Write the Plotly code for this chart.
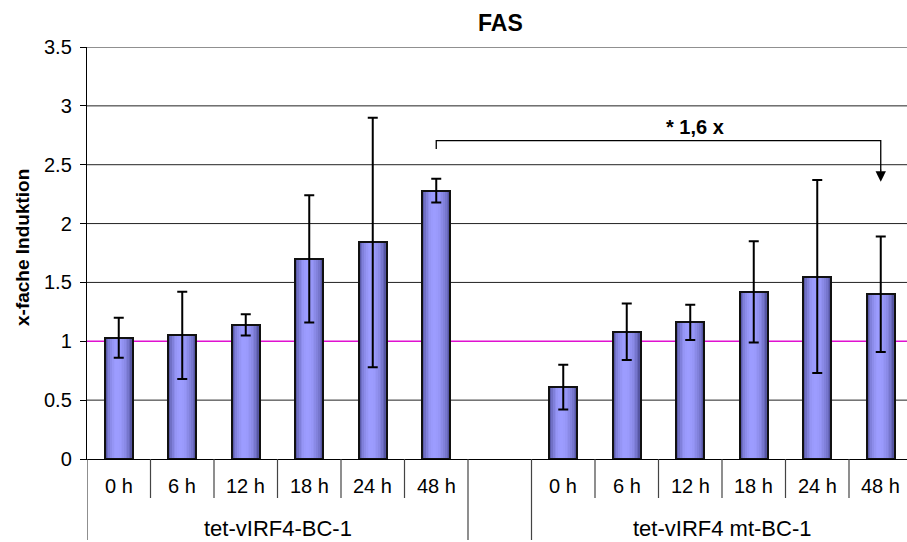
import plotly.graph_objects as go

# --- data -------------------------------------------------------------
times = ["0 h", "6 h", "12 h", "18 h", "24 h", "48 h"]
groups = ["tet-vIRF4-BC-1", "tet-vIRF4 mt-BC-1"]

wt_values = [1.03, 1.05, 1.14, 1.70, 1.84, 2.28]
wt_errors = [0.17, 0.37, 0.09, 0.54, 1.06, 0.10]

mt_values = [0.61, 1.08, 1.16, 1.42, 1.55, 1.40]
mt_errors = [0.19, 0.24, 0.15, 0.43, 0.82, 0.49]

y_ticks = [0, 0.5, 1, 1.5, 2, 2.5, 3, 3.5]
baseline = 1
fold_label = "* 1,6 x"
title_text = "FAS"
y_title = "x-fache Induktion"

# slot layout: six bars, one empty slot, six bars
wt_slots = list(range(0, 6))
mt_slots = list(range(7, 13))
x_pos = wt_slots + mt_slots
y_val = wt_values + mt_values
y_err = wt_errors + mt_errors

FONT = "Arial, 'Liberation Sans', sans-serif"
BAR_W = 0.44
N_STRIPES = 16

fig = go.Figure()

# cylinder-like horizontal shading built from narrow overlaid stripes
light = (156, 156, 255)
dark = (72, 72, 145)
centre = 0.42
for i in range(N_STRIPES):
    t = (i + 0.5) / N_STRIPES
    span = centre if t < centre else 1 - centre
    b = max(0.0, 1 - ((t - centre) / span) ** 2)
    b = b ** 0.8
    col = tuple(int(round(d + (l - d) * b)) for d, l in zip(dark, light))
    left = -BAR_W / 2 + i * BAR_W / N_STRIPES
    fig.add_trace(go.Bar(
        x=x_pos, y=y_val,
        width=BAR_W - i * BAR_W / N_STRIPES,
        offset=left,
        marker=dict(color="rgb(%d,%d,%d)" % col, line=dict(width=0)),
        showlegend=False, hoverinfo="skip",
    ))

# outline + error bars
fig.add_trace(go.Bar(
    x=x_pos, y=y_val, width=BAR_W,
    marker=dict(color="rgba(0,0,0,0)", line=dict(color="#111111", width=2)),
    error_y=dict(type="data", array=y_err, visible=True,
                 color="#000000", thickness=2, width=5),
    showlegend=False,
))

# --- geometry ---------------------------------------------------------
L, T, B, R = 87, 47, 83, 0
W, H = 907, 542
slot_px = 63.5
x_max = -0.5 + (W - L - R) / slot_px
plot_h = H - T - B


def py(pix):
    """pixel row -> paper y"""
    return (H - B - pix) / plot_h


def px(pix):
    """pixel column -> paper x"""
    return (pix - L) / (W - L - R)


shapes = []
# horizontal grid (the line at 1 is drawn in magenta instead)
for v in y_ticks:
    if v == 0 or v == baseline:
        continue
    shapes.append(dict(type="line", xref="paper", yref="y", x0=0, x1=1, y0=v, y1=v,
                       line=dict(color="#222222", width=1), layer="below"))
shapes.append(dict(type="line", xref="paper", yref="y", x0=0, x1=1,
                   y0=baseline, y1=baseline,
                   line=dict(color="#e010d0", width=1.4), layer="below"))

# category dividers below the axis
long_bounds = [-0.5, 5.5, 6.5]
inner_bounds = [0.5, 1.5, 2.5, 3.5, 4.5, 7.5, 8.5, 9.5, 10.5, 11.5]
for xb in long_bounds:
    shapes.append(dict(type="line", xref="x", yref="paper", x0=xb, x1=xb,
                       y0=0, y1=py(540), line=dict(color="#444444", width=1.2)))
for xb in inner_bounds:
    shapes.append(dict(type="line", xref="x", yref="paper", x0=xb, x1=xb,
                       y0=0, y1=py(498), line=dict(color="#444444", width=1.2)))

# comparison bracket between the two 48 h bars
br_top, br_left = 2.704, 2.634
shapes.append(dict(type="path", xref="x", yref="y",
                   path="M 5,%f L 5,%f L 12,%f L 12,2.45" % (br_left, br_top, br_top),
                   line=dict(color="#000000", width=1.3)))

annotations = []
annotations.append(dict(x=12, y=2.356, xref="x", yref="y", ax=12, ay=2.47,
                        axref="x", ayref="y", text="", showarrow=True,
                        arrowhead=2, arrowsize=1.6, arrowwidth=1.3,
                        arrowcolor="#000000", standoff=0))
annotations.append(dict(x=9.07, y=2.823, xref="x", yref="y", text="<b>%s</b>" % fold_label,
                        showarrow=False, font=dict(family=FONT, size=20, color="#000000"),
                        xanchor="center", yanchor="middle"))

# time labels and group labels
for slots in (wt_slots, mt_slots):
    for s, lab in zip(slots, times):
        annotations.append(dict(x=s, y=py(486), xref="x", yref="paper", text=lab,
                                showarrow=False, xanchor="center", yanchor="middle",
                                font=dict(family=FONT, size=20, color="#000000")))
for slots, g in zip((wt_slots, mt_slots), groups):
    annotations.append(dict(x=(slots[0] + slots[-1]) / 2, y=py(528), xref="x", yref="paper",
                            text=g, showarrow=False, xanchor="center", yanchor="middle",
                            font=dict(family=FONT, size=22, color="#000000")))

# title and axis title
annotations.append(dict(x=px(500), y=py(23), xref="paper", yref="paper",
                        text="<b>%s</b>" % title_text, showarrow=False,
                        xanchor="center", yanchor="middle",
                        font=dict(family=FONT, size=23, color="#000000")))
annotations.append(dict(x=px(22), y=py(248), xref="paper", yref="paper",
                        text="<b>%s</b>" % y_title, showarrow=False, textangle=-90,
                        xanchor="center", yanchor="middle",
                        font=dict(family=FONT, size=19, color="#000000")))

fig.update_layout(
    width=W, height=H,
    margin=dict(l=L, r=R, t=T, b=B, pad=0),
    paper_bgcolor="white", plot_bgcolor="white",
    barmode="overlay", bargap=0,
    shapes=shapes, annotations=annotations,
    font=dict(family=FONT, color="#000000"),
    xaxis=dict(range=[-0.5, x_max], showgrid=False, zeroline=False,
               showticklabels=False, ticks="", showline=True,
               linecolor="#000000", linewidth=1.2, fixedrange=True),
    yaxis=dict(range=[0, 3.5], tickvals=y_ticks, ticks="outside", ticklen=6,
               tickcolor="#000000", tickwidth=1.2, showline=True,
               linecolor="#000000", linewidth=1.4, showgrid=False,
               zeroline=False,
               tickfont=dict(family=FONT, size=20, color="#000000"),
               ticklabelstandoff=4, fixedrange=True),
)

fig.write_html("out.html")
